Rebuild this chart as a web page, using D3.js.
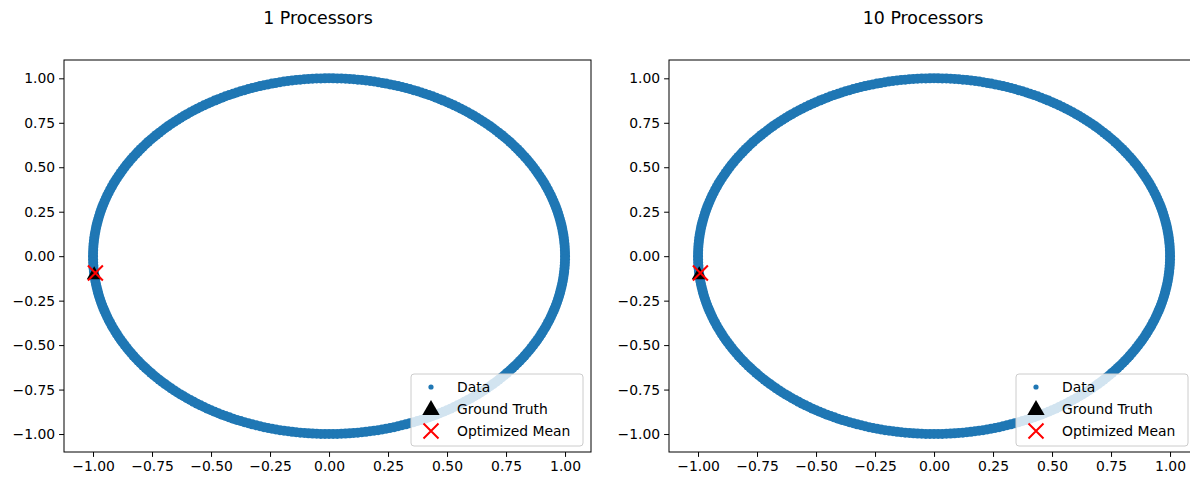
<!DOCTYPE html>
<html><head><meta charset="utf-8">
<script src="https://cdn.jsdelivr.net/npm/d3@7"></script>
<style>body{margin:0;background:#fff}svg{display:block}text{font-family:"DejaVu Sans",sans-serif;fill:#000}</style>
</head><body>
<svg id="c" width="1190" height="480"></svg>
<script>
// ---- data ----
const panelTitles = ["1 Processors", "10 Processors"];
// data points on the ring (polar: angle in degrees, radius)
const ringAngles = [0,1,2,3,4,5,6,7,8,9,10,11,12,13,14,15,16,17,18,19,20,21,22,23,24,25,26,27,28,29,30,31,32,33,34,35,36,37,38,39,40,41,42,43,44,45,46,47,48,49,50,51,52,53,54,55,56,57,58,59,60,61,62,63,64,65,66,67,68,69,70,71,72,73,74,75,76,77,78,79,80,81,82,83,84,85,86,87,88,89,90,91,92,93,94,95,96,97,98,99,100,101,102,103,104,105,106,107,108,109,110,111,112,113,114,115,116,117,118,119,120,121,122,123,124,125,126,127,128,129,130,131,132,133,134,135,136,137,138,139,140,141,142,143,144,145,146,147,148,149,150,151,152,153,154,155,156,157,158,159,160,161,162,163,164,165,166,167,168,169,170,171,172,173,174,175,176,177,178,179,180,181,182,183,184,185,186,187,188,189,190,191,192,193,194,195,196,197,198,199,200,201,202,203,204,205,206,207,208,209,210,211,212,213,214,215,216,217,218,219,220,221,222,223,224,225,226,227,228,229,230,231,232,233,234,235,236,237,238,239,240,241,242,243,244,245,246,247,248,249,250,251,252,253,254,255,256,257,258,259,260,261,262,263,264,265,266,267,268,269,270,271,272,273,274,275,276,277,278,279,280,281,282,283,284,285,286,287,288,289,290,291,292,293,294,295,296,297,298,299,300,301,302,303,304,305,306,307,308,309,310,311,312,313,314,315,316,317,318,319,320,321,322,323,324,325,326,327,328,329,330,331,332,333,334,335,336,337,338,339,340,341,342,343,344,345,346,347,348,349,350,351,352,353,354,355,356,357,358,359];
const ringRadius = 1.0;
const groundTruth = [[-0.995, -0.105], [-0.995, -0.105]];
const optimizedMean = [[-0.99, -0.095], [-0.99, -0.095]];
const tickValues = [-1.00, -0.75, -0.50, -0.25, 0.00, 0.25, 0.50, 0.75, 1.00];
const legendLabels = ["Data", "Ground Truth", "Optimized Mean"];
const xDomain = [-1.123, 1.110];
const yDomain = [-1.101, 1.103];

// ---- drawing ----
const svg = d3.select("#c");
const panels = [{x0: 64, x1: 591}, {x0: 669, x1: 1196}];
const plotTop = 60, plotBottom = 452;
const blue = "#1f77b4";
const fmt = d3.format(".2f");
const minusFmt = v => fmt(v).replace("-", "\u2212");

const ringPts = ringAngles.map(a => [ringRadius * Math.cos(a * Math.PI / 180), ringRadius * Math.sin(a * Math.PI / 180)]);

panels.forEach((p, i) => {
  const x = d3.scaleLinear().domain(xDomain).range([p.x0, p.x1]);
  const y = d3.scaleLinear().domain(yDomain).range([plotBottom, plotTop]);
  const g = svg.append("g");

  const clipId = "clip" + i;
  svg.append("clipPath").attr("id", clipId).append("rect")
    .attr("x", p.x0).attr("y", plotTop).attr("width", p.x1 - p.x0).attr("height", plotBottom - plotTop);

  const plot = g.append("g").attr("clip-path", `url(#${clipId})`);
  plot.selectAll("circle.d").data(ringPts).join("circle")
    .attr("cx", d => x(d[0])).attr("cy", d => y(d[1])).attr("r", 5.0).attr("fill", blue);

  // ground truth triangle
  const tri = d3.symbol().type(d3.symbolTriangle).size(95);
  plot.append("path").attr("d", tri())
    .attr("transform", `translate(${x(groundTruth[i][0])},${y(groundTruth[i][1])})`)
    .attr("fill", "#000");
  // optimized mean X
  const s = 7.5;
  plot.append("path").attr("d", `M${-s},${-s}L${s},${s}M${-s},${s}L${s},${-s}`)
    .attr("transform", `translate(${x(optimizedMean[i][0])},${y(optimizedMean[i][1])})`)
    .attr("stroke", "red").attr("stroke-width", 2).attr("fill", "none");

  // axes
  const xAxis = d3.axisBottom(x).tickValues(tickValues).tickFormat(minusFmt).tickSizeOuter(0).tickSize(4.9).tickPadding(4);
  const yAxis = d3.axisLeft(y).tickValues(tickValues).tickFormat(minusFmt).tickSizeOuter(0).tickSize(4.9).tickPadding(4);
  const gx = g.append("g").attr("transform", `translate(0,${plotBottom})`).call(xAxis);
  const gy = g.append("g").attr("transform", `translate(${p.x0},0)`).call(yAxis);
  [gx, gy].forEach(a => {
    a.select(".domain").remove();
    a.selectAll("line").attr("stroke", "#000").attr("stroke-width", 1);
    a.selectAll("text").attr("font-size", "13.9px").attr("fill", "#000").style("font-family", "DejaVu Sans");
  });
  gx.selectAll("text").attr("dy", "0.71em").attr("y", 9.5);

  // frame
  g.append("rect").attr("x", p.x0).attr("y", plotTop).attr("width", p.x1 - p.x0).attr("height", plotBottom - plotTop)
    .attr("fill", "none").attr("stroke", "#000").attr("stroke-width", 1);

  // title
  g.append("text").attr("x", (p.x0 + p.x1) / 2 - 9.5).attr("y", 24).attr("text-anchor", "middle")
    .attr("font-size", "17.4px").text(panelTitles[i]);

  // legend
  const lx = p.x1 - 180, ly = 374, lw = 172, lh = 72;
  const lg = g.append("g");
  lg.append("rect").attr("x", lx).attr("y", ly).attr("width", lw).attr("height", lh).attr("rx", 3)
    .attr("fill", "#fff").attr("fill-opacity", 0.8).attr("stroke", "#cccccc").attr("stroke-width", 1);
  const mx = lx + 20, tx = lx + 46;
  const rows = [387, 409, 431];
  lg.append("circle").attr("cx", mx).attr("cy", rows[0]).attr("r", 2.6).attr("fill", blue);
  lg.append("path").attr("d", d3.symbol().type(d3.symbolTriangle).size(130)())
    .attr("transform", `translate(${mx},${rows[1] + 1})`).attr("fill", "#000");
  lg.append("path").attr("d", `M${-s},${-s}L${s},${s}M${-s},${s}L${s},${-s}`)
    .attr("transform", `translate(${mx},${rows[2]})`).attr("stroke", "red").attr("stroke-width", 2);
  legendLabels.forEach((t, k) => {
    lg.append("text").attr("x", tx).attr("y", rows[k]).attr("dy", "0.35em").attr("font-size", "13.9px").text(t);
  });
});
</script>
</body></html>
